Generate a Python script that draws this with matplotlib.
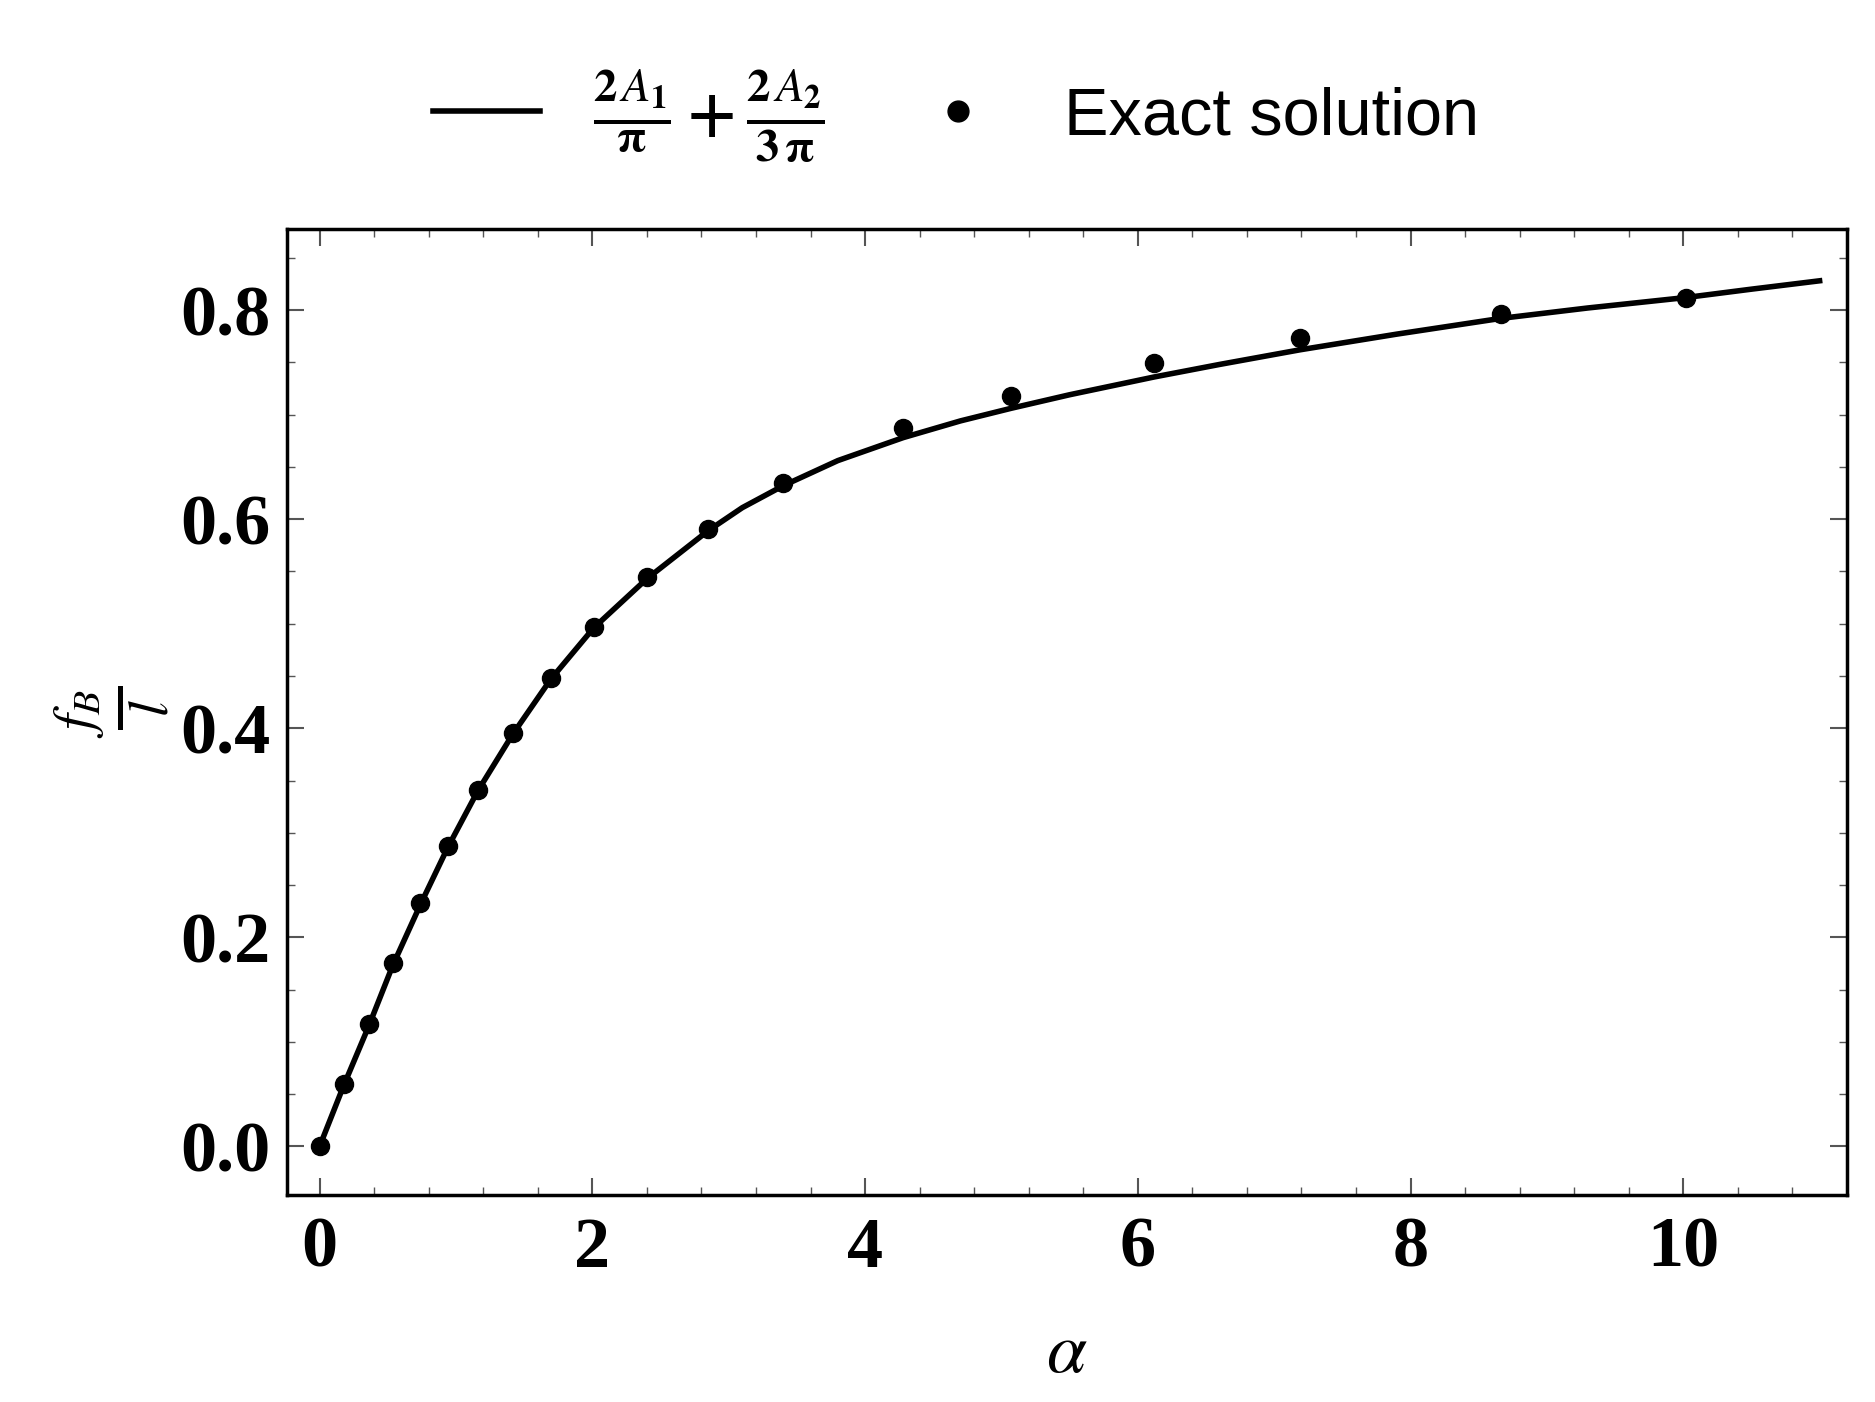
import matplotlib
matplotlib.use("Agg")
import matplotlib.pyplot as plt
from matplotlib.ticker import MultipleLocator
from matplotlib.lines import Line2D

# exact solution points
alpha_pts = [0.0, 0.176, 0.36, 0.536, 0.738, 0.94, 1.16, 1.415, 1.696, 2.01,
             2.40, 2.85, 3.40, 4.28, 5.07, 6.12, 7.19, 8.66, 10.02]
fb_pts = [0.0, 0.060, 0.117, 0.175, 0.233, 0.287, 0.341, 0.395, 0.448, 0.497,
          0.545, 0.591, 0.635, 0.687, 0.718, 0.749, 0.773, 0.796, 0.812]

# approximation curve
alpha_line = [0.0, 0.176, 0.36, 0.536, 0.738, 0.94, 1.16, 1.415, 1.696, 2.01,
              2.40, 2.85, 3.10, 3.40, 3.8, 4.28, 4.7, 5.07, 5.5, 6.12, 6.6,
              7.19, 7.9, 8.66, 9.3, 10.02, 10.5, 11.0]
fb_line = [0.0, 0.058, 0.115, 0.173, 0.231, 0.286, 0.340, 0.394, 0.447, 0.496,
           0.543, 0.589, 0.611, 0.632, 0.656, 0.678, 0.694, 0.706, 0.719, 0.736,
           0.748, 0.762, 0.777, 0.792, 0.802, 0.812, 0.820, 0.828]

plt.rcParams["mathtext.fontset"] = "stix"

fig = plt.figure(figsize=(18.75, 14.02), dpi=100)
ax = fig.add_axes([0.153, 0.148, 0.832, 0.689])

ax.plot(alpha_line, fb_line, color="black", lw=4)
ax.plot(alpha_pts, fb_pts, "o", color="black", ms=13)

ax.set_xlim(-0.24, 11.2)
ax.set_ylim(-0.046, 0.878)
ax.xaxis.set_major_locator(MultipleLocator(2))
ax.xaxis.set_minor_locator(MultipleLocator(0.4))
ax.yaxis.set_major_locator(MultipleLocator(0.2))
ax.yaxis.set_minor_locator(MultipleLocator(0.05))
ax.tick_params(which="both", direction="in", top=True, right=True, color="#555555")
ax.tick_params(which="major", length=12, width=1.5)
ax.tick_params(which="minor", length=6, width=1)
ax.set_xticks([0, 2, 4, 6, 8, 10])
ax.set_xticklabels(["0", "2", "4", "6", "8", "10"])
ax.set_yticks([0.0, 0.2, 0.4, 0.6, 0.8])
ax.set_yticklabels(["0.0", "0.2", "0.4", "0.6", "0.8"])
for lab in ax.get_xticklabels() + ax.get_yticklabels():
    lab.set_fontfamily("Liberation Serif")
    lab.set_fontweight("bold")
    lab.set_fontsize(52)
ax.tick_params(axis="x", pad=16)
ax.tick_params(axis="y", pad=12)
for s in ax.spines.values():
    s.set_linewidth(2.5)

ax.set_xlabel(r"$\alpha$", fontsize=52, labelpad=26)
ax.set_ylabel(r"$\mathbf{\frac{\mathit{f}_{\mathit{B}}}{\mathit{l}}}$", fontsize=58, labelpad=6)

handles = [Line2D([], [], color="black", lw=4),
           Line2D([], [], marker="o", ls="none", color="black", ms=15)]
labels = [r"$\mathsf{\mathbf{\frac{2\,\mathit{A}_1}{\pi}+\frac{2\,\mathit{A}_2}{3\,\pi}}}$", "Exact solution"]
fig.legend(handles, labels, loc="upper center", bbox_to_anchor=(0.51, 0.995), ncol=2,
           frameon=False, handlelength=1.6, columnspacing=1.2,
           prop={"family": "Liberation Sans", "size": 48})

fig.savefig("out.png", dpi=100)
